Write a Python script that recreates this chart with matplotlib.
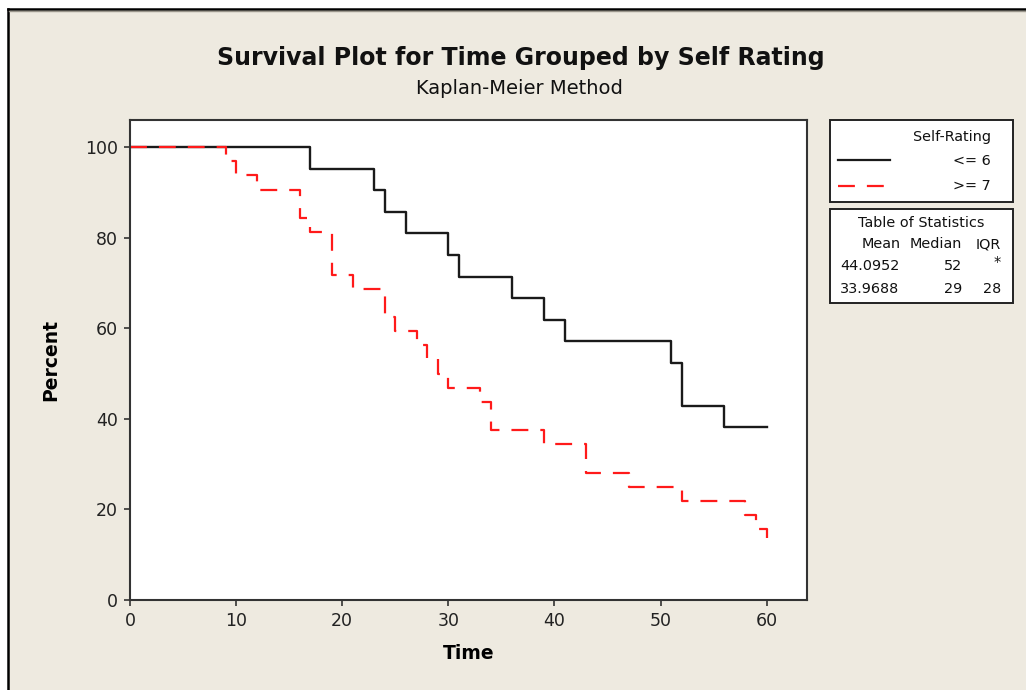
import matplotlib
matplotlib.use("Agg")
import matplotlib.pyplot as plt
from matplotlib.patches import Rectangle
from matplotlib.lines import Line2D

# Kaplan-Meier step estimates (percent surviving) by self-rating group
time_le6 = [0, 17, 23, 24, 26, 30, 31, 36, 39, 41, 51, 52, 56, 60]
surv_le6 = [100, 95.24, 90.48, 85.71, 80.95, 76.19, 71.43, 66.67, 61.90, 57.14, 52.38, 42.86, 38.10, 38.10]

time_ge7 = [0, 9, 10, 12, 16, 17, 19, 21, 24, 25, 27, 28, 29, 30, 33, 34, 39, 43, 47, 52, 58, 59, 60]
surv_ge7 = [100, 96.875, 93.75, 90.625, 84.375, 81.25, 71.875, 68.75, 62.5, 59.375, 56.25, 53.125,
            50.0, 46.875, 43.75, 37.5, 34.375, 28.125, 25.0, 21.875, 18.75, 15.625, 12.5]

group_labels = ["<= 6", ">= 7"]
stat_header = ["Mean", "Median", "IQR"]
stat_mean = ["44.0952", "33.9688"]
stat_median = ["52", "29"]
stat_iqr = ["*", "28"]

W, H = 1026, 690
BG = "#eeeae0"
RED_DASH = (7.6, 5.4)
plt.rcParams["font.family"] = "DejaVu Sans"


def fx(x):
    return x / W


def fy(y):
    return 1 - y / H


fig = plt.figure(figsize=(W / 100, H / 100), dpi=100, facecolor="white")
# panel background with its dark top/left edge
fig.patches.append(Rectangle((fx(8), 0), 1 - fx(8), fy(10), transform=fig.transFigure,
                             facecolor=BG, edgecolor="none", zorder=-5))
fig.lines.append(Line2D([fx(8), fx(8)], [0, fy(9)], transform=fig.transFigure, color="black", lw=1.8))
fig.lines.append(Line2D([fx(8), 1], [fy(9), fy(9)], transform=fig.transFigure, color="black", lw=1.8))
fig.lines.append(Line2D([fx(9), 1], [fy(11), fy(11)], transform=fig.transFigure, color="#9a968c", lw=1))

ax = fig.add_axes([fx(130), fy(600), fx(807) - fx(130), fy(120) - fy(600)])
ax.set_facecolor("white")
ax.step(time_le6, surv_le6, where="post", color="#1a1a1a", lw=1.7)
ax.step(time_ge7, surv_ge7, where="post", color="#ff1a1a", lw=1.6, dashes=RED_DASH)
ax.set_xlim(0, 63.8)
ax.set_ylim(0, 106)
ax.set_xticks(range(0, 61, 10))
ax.set_yticks(range(0, 101, 20))
for s in ax.spines.values():
    s.set_color("#333333")
    s.set_linewidth(1.5)
ax.tick_params(direction="out", length=4.5, width=1.2, color="#333333", labelsize=12.5,
               labelcolor="#222222", pad=4)
ax.set_xlabel("Time", fontsize=13.5, fontweight="bold", labelpad=10)
ax.set_ylabel("Percent", fontsize=13.5, fontweight="bold", labelpad=18)

fig.text(0.5 * (fx(218) + fx(823)), fy(58), "Survival Plot for Time Grouped by Self Rating",
         ha="center", va="center", fontsize=17, fontweight="bold", color="#111111")
fig.text(0.5 * (fx(410) + fx(628)), fy(88), "Kaplan-Meier Method",
         ha="center", va="center", fontsize=14, color="#111111")

# legend and statistics boxes
for (y0, y1) in [(120, 202), (209, 303)]:
    fig.patches.append(Rectangle((fx(830), fy(y1)), fx(1013) - fx(830), fy(y0) - fy(y1),
                                 transform=fig.transFigure, facecolor="white",
                                 edgecolor="#222222", lw=1.4, zorder=1))

tkw = dict(fontsize=10.4, color="#111111", va="center", zorder=3)
fig.text(fx(991), fy(137), "Self-Rating", ha="right", **tkw)
fig.lines.append(Line2D([fx(838), fx(890)], [fy(160), fy(160)], transform=fig.transFigure,
                        color="#1a1a1a", lw=1.6, zorder=3))
fig.lines.append(Line2D([fx(838), fx(886)], [fy(186), fy(186)], transform=fig.transFigure,
                        color="#ff1a1a", lw=1.6, dashes=RED_DASH, zorder=3))
fig.text(fx(991), fy(161), group_labels[0], ha="right", **tkw)
fig.text(fx(991), fy(186), group_labels[1], ha="right", **tkw)

fig.text(fx(921), fy(223), "Table of Statistics", ha="center", **tkw)
fig.text(fx(901), fy(244), stat_header[0], ha="right", **tkw)
fig.text(fx(962), fy(244), stat_header[1], ha="right", **tkw)
fig.text(fx(1001), fy(244), stat_header[2], ha="right", **tkw)
for i, yy in enumerate([266, 289]):
    fig.text(fx(840), fy(yy), stat_mean[i], ha="left", **tkw)
    fig.text(fx(962), fy(yy), stat_median[i], ha="right", **tkw)
    off = -4 if stat_iqr[i] == "*" else 0
    fig.text(fx(1001), fy(yy + off), stat_iqr[i], ha="right", **tkw)

fig.savefig("out.png", dpi=100, facecolor=fig.get_facecolor())
